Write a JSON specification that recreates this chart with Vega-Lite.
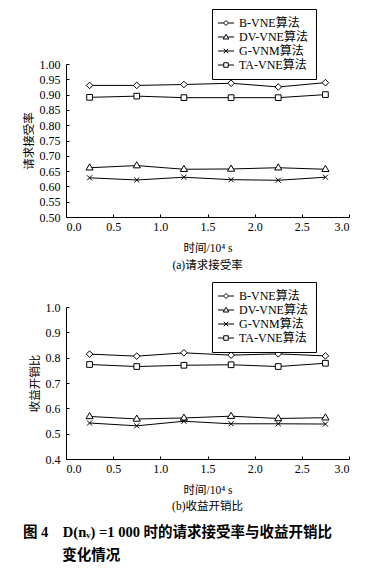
{
  "$schema": "https://vega.github.io/schema/vega-lite/v6.json",
  "background": "white",
  "padding": {"left": 23, "top": 8, "right": 10, "bottom": 5},
  "datasets": {
    "acc": [
      {"t": 0.25, "v": 0.930, "series": "B-VNE算法"},
      {"t": 0.75, "v": 0.930, "series": "B-VNE算法"},
      {"t": 1.25, "v": 0.933, "series": "B-VNE算法"},
      {"t": 1.75, "v": 0.937, "series": "B-VNE算法"},
      {"t": 2.25, "v": 0.925, "series": "B-VNE算法"},
      {"t": 2.75, "v": 0.939, "series": "B-VNE算法"},
      {"t": 0.25, "v": 0.661, "series": "DV-VNE算法"},
      {"t": 0.75, "v": 0.668, "series": "DV-VNE算法"},
      {"t": 1.25, "v": 0.656, "series": "DV-VNE算法"},
      {"t": 1.75, "v": 0.657, "series": "DV-VNE算法"},
      {"t": 2.25, "v": 0.661, "series": "DV-VNE算法"},
      {"t": 2.75, "v": 0.656, "series": "DV-VNE算法"},
      {"t": 0.25, "v": 0.628, "series": "G-VNM算法"},
      {"t": 0.75, "v": 0.621, "series": "G-VNM算法"},
      {"t": 1.25, "v": 0.630, "series": "G-VNM算法"},
      {"t": 1.75, "v": 0.622, "series": "G-VNM算法"},
      {"t": 2.25, "v": 0.620, "series": "G-VNM算法"},
      {"t": 2.75, "v": 0.630, "series": "G-VNM算法"},
      {"t": 0.25, "v": 0.891, "series": "TA-VNE算法"},
      {"t": 0.75, "v": 0.895, "series": "TA-VNE算法"},
      {"t": 1.25, "v": 0.890, "series": "TA-VNE算法"},
      {"t": 1.75, "v": 0.890, "series": "TA-VNE算法"},
      {"t": 2.25, "v": 0.890, "series": "TA-VNE算法"},
      {"t": 2.75, "v": 0.900, "series": "TA-VNE算法"}
    ],
    "ratio": [
      {"t": 0.25, "v": 0.814, "series": "B-VNE算法"},
      {"t": 0.75, "v": 0.806, "series": "B-VNE算法"},
      {"t": 1.25, "v": 0.819, "series": "B-VNE算法"},
      {"t": 1.75, "v": 0.810, "series": "B-VNE算法"},
      {"t": 2.25, "v": 0.815, "series": "B-VNE算法"},
      {"t": 2.75, "v": 0.807, "series": "B-VNE算法"},
      {"t": 0.25, "v": 0.568, "series": "DV-VNE算法"},
      {"t": 0.75, "v": 0.558, "series": "DV-VNE算法"},
      {"t": 1.25, "v": 0.562, "series": "DV-VNE算法"},
      {"t": 1.75, "v": 0.569, "series": "DV-VNE算法"},
      {"t": 2.25, "v": 0.560, "series": "DV-VNE算法"},
      {"t": 2.75, "v": 0.563, "series": "DV-VNE算法"},
      {"t": 0.25, "v": 0.542, "series": "G-VNM算法"},
      {"t": 0.75, "v": 0.531, "series": "G-VNM算法"},
      {"t": 1.25, "v": 0.549, "series": "G-VNM算法"},
      {"t": 1.75, "v": 0.539, "series": "G-VNM算法"},
      {"t": 2.25, "v": 0.539, "series": "G-VNM算法"},
      {"t": 2.75, "v": 0.538, "series": "G-VNM算法"},
      {"t": 0.25, "v": 0.773, "series": "TA-VNE算法"},
      {"t": 0.75, "v": 0.765, "series": "TA-VNE算法"},
      {"t": 1.25, "v": 0.770, "series": "TA-VNE算法"},
      {"t": 1.75, "v": 0.772, "series": "TA-VNE算法"},
      {"t": 2.25, "v": 0.765, "series": "TA-VNE算法"},
      {"t": 2.75, "v": 0.778, "series": "TA-VNE算法"}
    ]
  },
  "title": {
    "text": ["图 4\u2003D(nᵥ) =1 000 时的请求接受率与收益开销比", "\u200b\u3000\u3000\u2002\u2009变化情况"],
    "orient": "bottom",
    "anchor": "start",
    "frame": "bounds",
    "font": "Liberation Serif, Noto Sans CJK SC",
    "fontSize": 14.5,
    "fontWeight": "bold",
    "color": "black",
    "lineHeight": 23,
    "offset": 14
  },
  "spacing": 10,
  "resolve": {"scale": {"shape": "independent"}, "legend": {"shape": "independent"}},
  "vconcat": [
    {
      "width": 283,
      "height": 153,
      "title": {"text": "(a)请求接受率", "orient": "bottom", "offset": 6},
      "data": {"name": "acc"},
      "resolve": {"scale": {"shape": "independent"}, "legend": {"shape": "independent"}},
      "layer": [
        {
          "mark": {"type": "line", "color": "black", "strokeWidth": 1},
          "encoding": {
            "x": {"field": "t", "type": "quantitative", "scale": {"domain": [0, 3]}, "axis": {"values": [0, 0.5, 1, 1.5, 2, 2.5, 3], "tickCount": 20, "format": ".1f", "labelOverlap": false, "title": "时间/10⁴ s"}},
            "y": {"field": "v", "type": "quantitative", "scale": {"domain": [0.5, 1.0]}, "axis": {"values": [0.5, 0.55, 0.6, 0.65, 0.7, 0.75, 0.8, 0.85, 0.9, 0.95, 1.0], "tickCount": 20, "format": ".2f", "labelOverlap": false, "title": "请求接受率"}},
            "detail": {"field": "series"}
          }
        },
        {
          "mark": {"type": "point", "filled": true, "fill": "white", "stroke": "black", "strokeWidth": 1, "size": 36, "opacity": 1},
          "encoding": {
            "x": {"field": "t", "type": "quantitative"},
            "y": {"field": "v", "type": "quantitative"},
            "shape": {"field": "series", "type": "nominal", "legend": null, "scale": {"range": ["M0,-1.1L1.1,0L0,1.1L-1.1,0Z", "M0,-1.3L1.2,0.75H-1.2Z", "M-0.85,-0.85L0.85,0.85M-0.85,0.85L0.85,-0.85", "M-0.95,-0.95H0.95V0.95H-0.95Z"]}}
          }
        },
        {
          "transform": [{"filter": "false"}],
          "mark": {"type": "point", "filled": false, "stroke": "black", "strokeWidth": 1, "opacity": 1},
          "encoding": {
            "x": {"field": "t", "type": "quantitative"},
            "y": {"field": "v", "type": "quantitative"},
            "shape": {"field": "series", "type": "nominal", "scale": {"domain": ["B-VNE算法", "DV-VNE算法", "G-VNM算法", "TA-VNE算法"], "range": ["M-1.6,0H-0.5M0.5,0H1.6M0,-0.5L0.5,0L0,0.5L-0.5,0Z", "M-1.6,0H-0.32M0.32,0H1.6M0,-0.55L0.55,0.4H-0.55Z", "M-1.6,0H1.6M-0.45,-0.45L0.45,0.45M-0.45,0.45L0.45,-0.45", "M-1.6,0H-0.45M0.45,0H1.6M-0.45,-0.45H0.45V0.45H-0.45Z"]},
              "legend": {"legendX": 146, "legendY": -55, "encode": {"symbols": {"update": {"stroke": {"value": "black"}, "fill": {"value": "white"}, "opacity": {"value": 1}, "strokeWidth": {"value": 1}}}}}}
          }
        }
      ]
    },
    {
      "width": 283,
      "height": 152,
      "title": {"text": "(b)收益开销比", "orient": "bottom", "offset": 5},
      "data": {"name": "ratio"},
      "resolve": {"scale": {"shape": "independent"}, "legend": {"shape": "independent"}},
      "layer": [
        {
          "mark": {"type": "line", "color": "black", "strokeWidth": 1},
          "encoding": {
            "x": {"field": "t", "type": "quantitative", "scale": {"domain": [0, 3]}, "axis": {"values": [0, 0.5, 1, 1.5, 2, 2.5, 3], "tickCount": 20, "format": ".1f", "labelOverlap": false, "title": "时间/10⁴ s"}},
            "y": {"field": "v", "type": "quantitative", "scale": {"domain": [0.4, 1.0]}, "axis": {"values": [0.4, 0.5, 0.6, 0.7, 0.8, 0.9, 1.0], "tickCount": 20, "format": ".1f", "labelOverlap": false, "title": "收益开销比"}},
            "detail": {"field": "series"}
          }
        },
        {
          "mark": {"type": "point", "filled": true, "fill": "white", "stroke": "black", "strokeWidth": 1, "size": 36, "opacity": 1},
          "encoding": {
            "x": {"field": "t", "type": "quantitative"},
            "y": {"field": "v", "type": "quantitative"},
            "shape": {"field": "series", "type": "nominal", "legend": null, "scale": {"range": ["M0,-1.1L1.1,0L0,1.1L-1.1,0Z", "M0,-1.3L1.2,0.75H-1.2Z", "M-0.85,-0.85L0.85,0.85M-0.85,0.85L0.85,-0.85", "M-0.95,-0.95H0.95V0.95H-0.95Z"]}}
          }
        },
        {
          "transform": [{"filter": "false"}],
          "mark": {"type": "point", "filled": false, "stroke": "black", "strokeWidth": 1, "opacity": 1},
          "encoding": {
            "x": {"field": "t", "type": "quantitative"},
            "y": {"field": "v", "type": "quantitative"},
            "shape": {"field": "series", "type": "nominal", "scale": {"domain": ["B-VNE算法", "DV-VNE算法", "G-VNM算法", "TA-VNE算法"], "range": ["M-1.6,0H-0.5M0.5,0H1.6M0,-0.5L0.5,0L0,0.5L-0.5,0Z", "M-1.6,0H-0.32M0.32,0H1.6M0,-0.55L0.55,0.4H-0.55Z", "M-1.6,0H1.6M-0.45,-0.45L0.45,0.45M-0.45,0.45L0.45,-0.45", "M-1.6,0H-0.45M0.45,0H1.6M-0.45,-0.45H0.45V0.45H-0.45Z"]},
              "legend": {"legendX": 146, "legendY": -25, "encode": {"symbols": {"update": {"stroke": {"value": "black"}, "fill": {"value": "white"}, "opacity": {"value": 1}, "strokeWidth": {"value": 1}}}}}}
          }
        }
      ]
    }
  ],
  "config": {
    "view": {"stroke": null},
    "axis": {
      "grid": false,
      "domainColor": "black",
      "domainWidth": 1,
      "tickColor": "black",
      "tickSize": -3,
      "tickWidth": 1,
      "labelColor": "black",
      "labelFont": "Liberation Serif",
      "labelFontSize": 12,
      "labelOverlap": false,
      "titleFont": "Liberation Serif, Noto Sans CJK SC",
      "titleFontSize": 11.5,
      "titleFontWeight": "normal",
      "titleColor": "black"
    },
    "axisX": {"labelPadding": 7, "titlePadding": 10},
    "axisY": {"labelPadding": 9, "titlePadding": 5},
    "title": {
      "font": "Liberation Serif, Noto Sans CJK SC",
      "fontSize": 11.5,
      "fontWeight": "normal",
      "color": "black"
    },
    "legend": {
      "orient": "none",
      "title": null,
      "strokeColor": "black",
      "fillColor": "white",
      "padding": 8,
      "labelFont": "Liberation Serif, Noto Sans CJK SC",
      "labelFontSize": 12,
      "labelColor": "black",
      "labelOffset": 7,
      "symbolSize": 100,
      "symbolStrokeColor": "black",
      "symbolFillColor": "white",
      "symbolStrokeWidth": 1,
      "rowPadding": 2
    }
  }
}
